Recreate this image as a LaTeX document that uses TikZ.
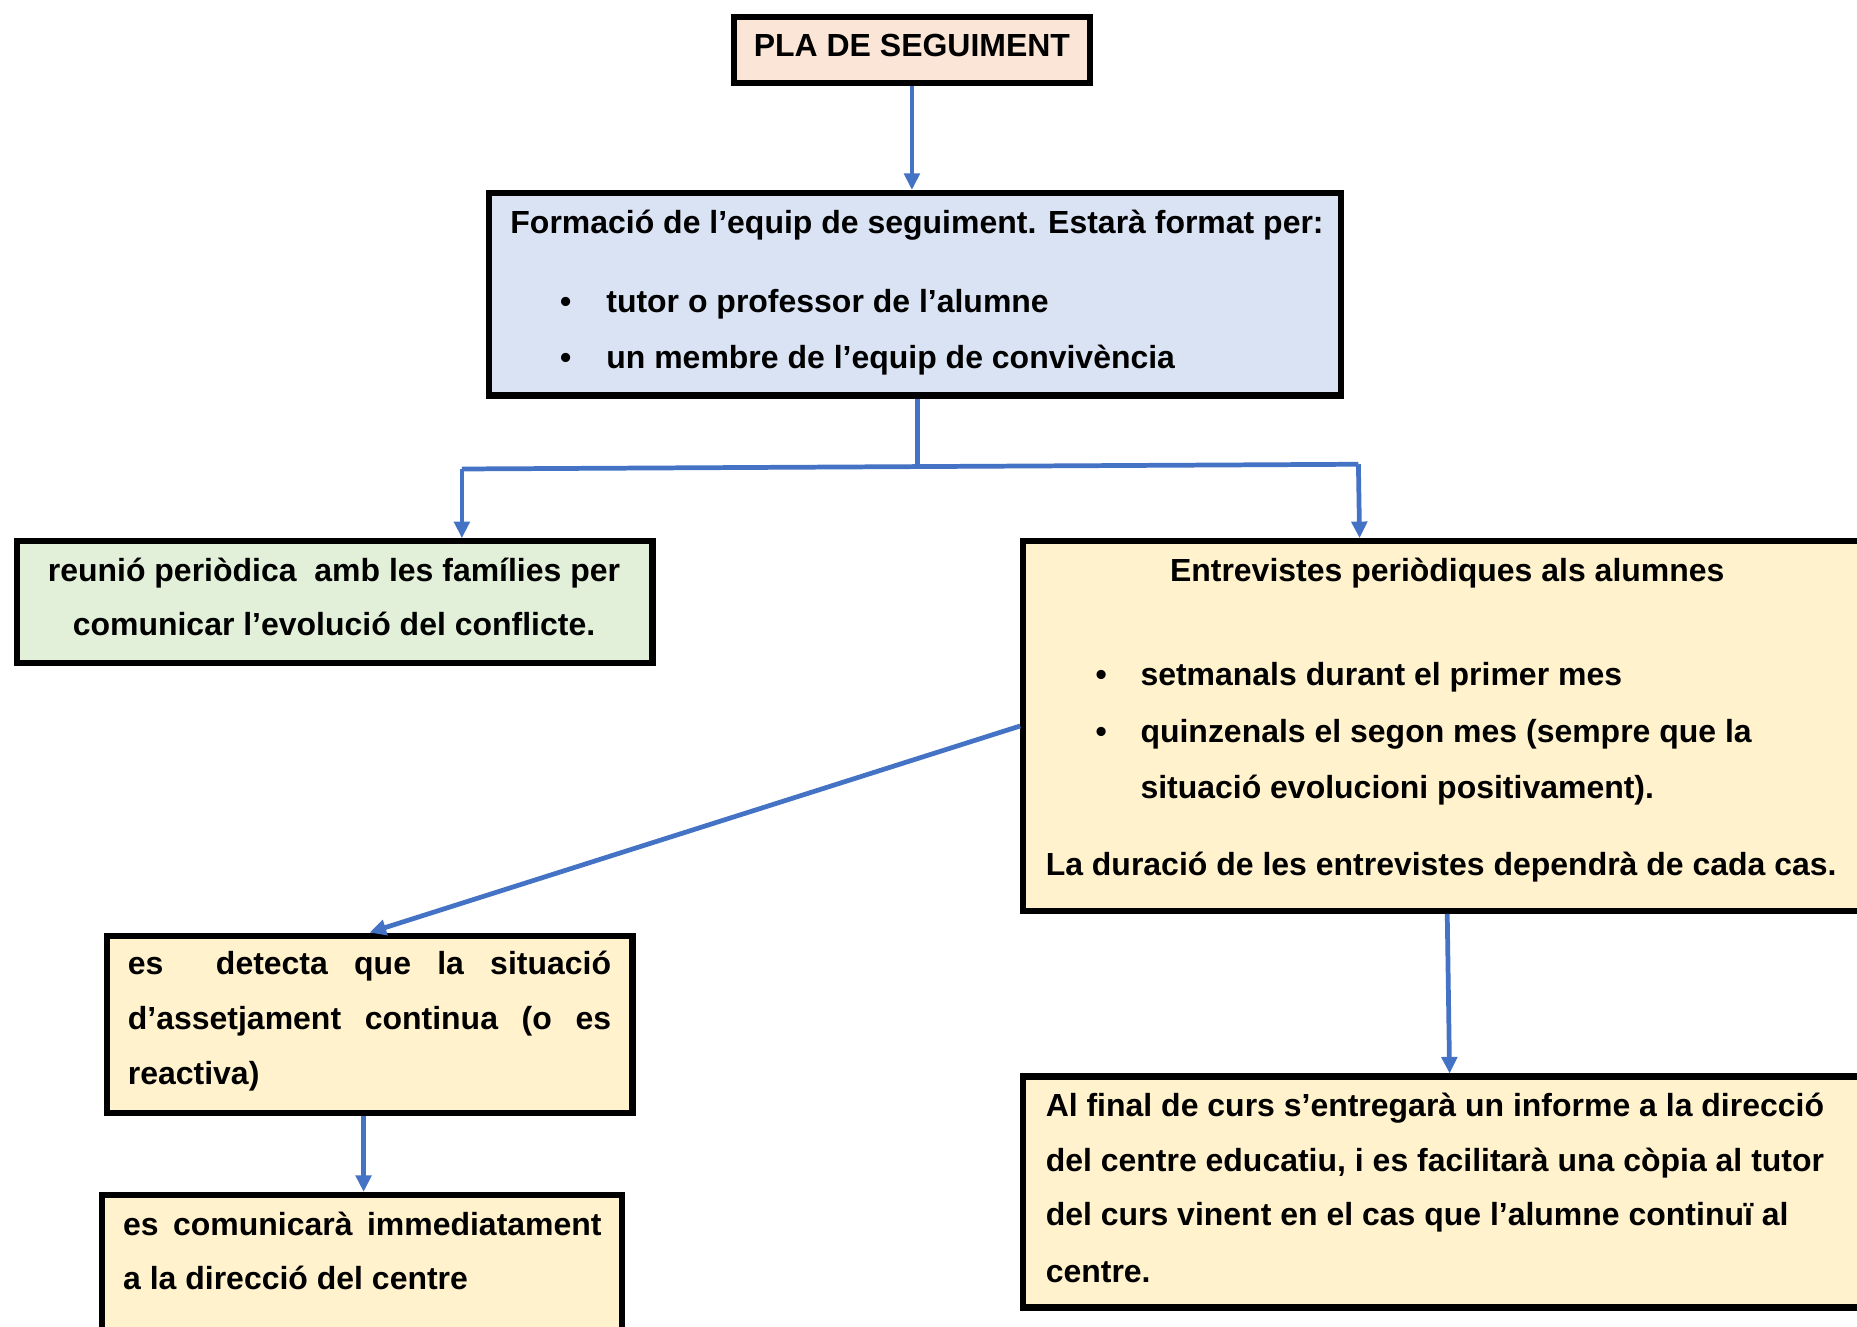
\documentclass[tikz,border=0pt]{standalone}
\usepackage{fontspec}
\setmainfont{Liberation Sans}
\usetikzlibrary{arrows.meta,calc}
\definecolor{peach}{HTML}{FBE5D6}
\definecolor{lblue}{HTML}{DAE3F3}
\definecolor{lgreen}{HTML}{E2F0D9}
\definecolor{lyellow}{HTML}{FFF2CC}
\definecolor{arrowblue}{HTML}{4472C4}
\newcommand\fsz{\fontsize{13.5pt}{16pt}\selectfont\bfseries}
\begin{document}
\begin{tikzpicture}[x=0.5pt,y=-0.5pt,
  box/.style={draw=black,line width=2.6pt,inner sep=0pt,anchor=center},
  conn/.style={draw=arrowblue,line width=2pt},
  arr/.style={conn,-{Triangle[length=7pt,width=6.5pt]}},
  txt/.style={inner sep=0pt,outer sep=0pt,font=\fsz},
  tl/.style={txt,anchor=base west},
  tc/.style={txt,anchor=base}]
\useasboundingbox (0,0) rectangle (1568,1120);
\clip (0,0) rectangle (1568,1120);
\fill[white] (0,0) rectangle (1568,1120);

% boxes
\node[box,fill=peach,minimum width=150pt,minimum height=28pt] (b1) at (770,42) {};
\node[box,fill=lblue,minimum width=359.5pt,minimum height=85.5pt] (b2) at (772.5,248.5) {};
\node[box,fill=lgreen,minimum width=268.5pt,minimum height=51.5pt] (b3) at (282.5,508.5) {};
\node[box,fill=lyellow,minimum width=368pt,minimum height=156pt] (b4) at (1232,613) {};
\node[box,fill=lyellow,minimum width=222pt,minimum height=75pt] (b5) at (312,865) {};
\node[box,fill=lyellow,minimum width=219.5pt,minimum height=75.5pt] (b6) at (305.5,1084.5) {};
\node[box,fill=lyellow,minimum width=368pt,minimum height=97.5pt] (b7) at (1232,1006.5) {};

% texts
\node[tc] (t1) at (770,48) {PLA DE SEGUIMENT};

\node[tl] (t2a) at (431,197) {Formació de l’equip de seguiment. Estarà format per:};
\node[tl] (t2b1) at (473,264) {•};
\node[tl] (t2b) at (512,264) {tutor o professor de l’alumne};
\node[tl] (t2c1) at (473,311) {•};
\node[tl] (t2c) at (512,311) {un membre de l’equip de convivència};

\node[tc] (t3a) at (282,491) {reunió periòdica\ \ amb les famílies per};
\node[tc] (t3b) at (282,537) {comunicar l’evolució del conflicte.};

\node[tc] (t4a) at (1222,491) {Entrevistes periòdiques als alumnes};
\node[tl] (t4b1) at (925,579) {•};
\node[tl] (t4b) at (963,579) {setmanals durant el primer mes};
\node[tl] (t4c1) at (925,627) {•};
\node[tl] (t4c) at (963,627) {quinzenals el segon mes (sempre que la};
\node[tl] (t4d) at (963,674) {situació evolucioni positivament).};
\node[tl] (t4e) at (883,739) {La duració de les entrevistes dependrà de cada cas.};

\node[tl] (t5a) at (108,823) {\makebox[204pt][s]{es\ \ detecta que la situació}};
\node[tl] (t5b) at (108,869) {\makebox[204pt][s]{d’assetjament continua (o es}};
\node[tl] (t5c) at (108,916) {reactiva)};

\node[tl] (t6a) at (104,1043) {\makebox[202pt][s]{es comunicarà immediatament}};
\node[tl] (t6b) at (104,1089) {a la direcció del centre};

\node[tl] (t7a) at (883,943) {Al final de curs s’entregarà un informe a la direcció};
\node[tl] (t7b) at (883,989) {del centre educatiu, i es facilitarà una còpia al tutor};
\node[tl] (t7c) at (883,1035) {del curs vinent en el cas que l’alumne continuï al};
\node[tl] (t7d) at (883,1083) {centre.};

% connectors
\coordinate (jL) at (390,396);
\coordinate (jM) at (775,394);
\coordinate (jR) at (1147,392);
\draw[arr] (b1.south) -- (b1.south |- b2.north);
\draw[conn] ($(b2.south)+(2.5,0)$) -- (jM);
\draw[conn] (jL) -- (jR);
\draw[arr] (jL) -- (jL |- b3.north);
\draw[arr] (jR) -- ($(jR |- b4.north)+(1,0)$);
\draw[arr] (b4.west) -- (b5.north);
\draw[arr] ($(b6.north |- b5.south)+(1.5,0)$) -- ($(b6.north)+(1.5,0)$);
\draw[arr] ($(b4.south)+(-10,0)$) -- ($(b7.north)+(-8,0)$);
\end{tikzpicture}
\end{document}
